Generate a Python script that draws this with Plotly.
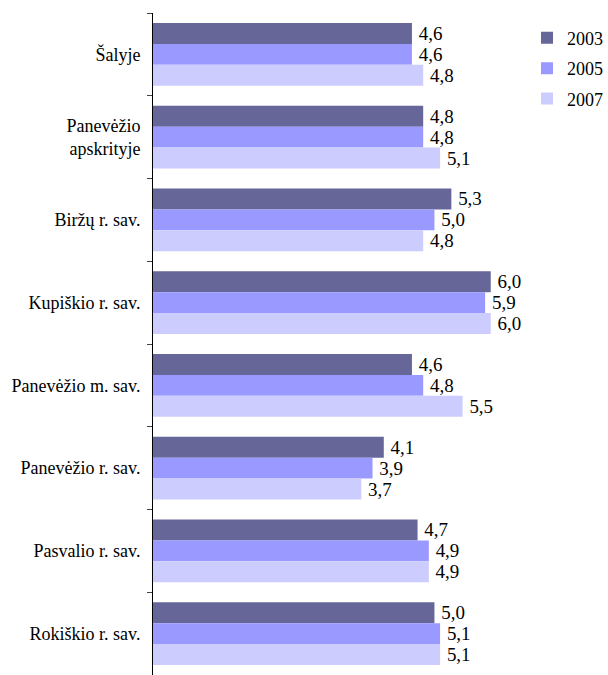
import plotly.graph_objects as go

categories = ["Šalyje", "Panevėžio<br>apskrityje", "Biržų r. sav.", "Kupiškio r. sav.",
              "Panevėžio m. sav.", "Panevėžio r. sav.", "Pasvalio r. sav.", "Rokiškio r. sav."]
series_names = ["2003", "2005", "2007"]
values_2003 = [4.6, 4.8, 5.3, 6.0, 4.6, 4.1, 4.7, 5.0]
values_2005 = [4.6, 4.8, 5.0, 5.9, 4.8, 3.9, 4.9, 5.1]
values_2007 = [4.8, 5.1, 4.8, 6.0, 5.5, 3.7, 4.9, 5.1]
colors = ["#666699", "#9999FF", "#CCCCFF"]

FONT = "Liberation Serif"

fig = go.Figure()
for name, vals, col in zip(series_names, [values_2003, values_2005, values_2007], colors):
    fig.add_trace(go.Bar(
        y=categories, x=vals, name=name, orientation="h",
        legendgroup=name,
        marker=dict(color=col, line=dict(width=0)),
        text=["\u2009" + f"{v:.1f}".replace(".", ",") for v in vals],
        textposition="outside", cliponaxis=False,
        textfont=dict(family=FONT, size=19, color="#000000"),
    ))

fig.update_layout(
    width=608, height=675,
    barmode="group", bargap=0.24, bargroupgap=0,
    margin=dict(l=153, r=0, t=13, b=0),
    paper_bgcolor="white", plot_bgcolor="white",
    font=dict(family=FONT, size=18, color="#000000"),
    showlegend=True,
    legend=dict(x=0.845, y=0.99, xanchor="left", yanchor="top",
                font=dict(family=FONT, size=18), itemwidth=30,
                traceorder="grouped", tracegroupgap=4, bgcolor="rgba(0,0,0,0)"),
)
fig.update_xaxes(range=[0, 7.87], visible=False, showgrid=False, zeroline=False)
fig.update_yaxes(autorange="reversed", showline=True, linecolor="#000000", linewidth=1,
                 ticks="outside", ticklen=5, tickcolor="#444444", tickson="boundaries",
                 showgrid=False, tickfont=dict(family=FONT, size=18), ticklabelstandoff=8)

fig.write_html("out.html", config={"displayModeBar": False},
               post_script="document.body.style.margin='0';document.body.style.overflow='hidden';")
